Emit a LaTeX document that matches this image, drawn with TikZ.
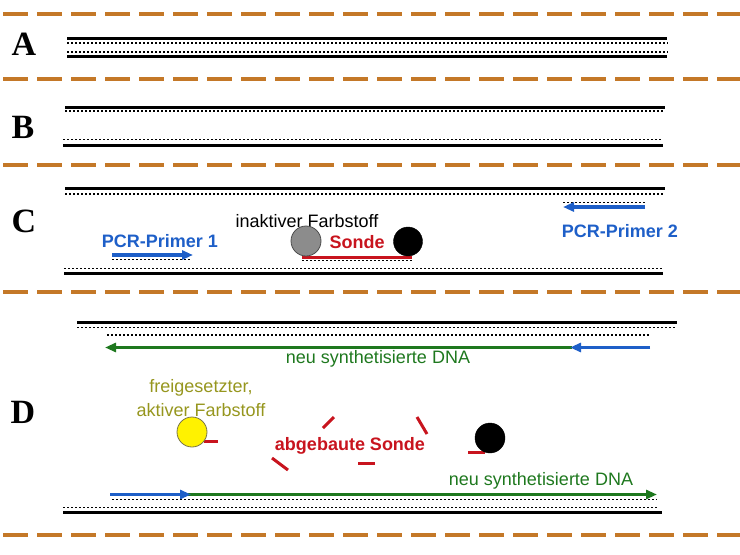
\documentclass[tikz,border=0pt]{standalone}
\usepackage{fontspec}
\setmainfont{Liberation Sans}
\newfontfamily\letterfont{Liberation Serif}
\usetikzlibrary{arrows.meta}
\definecolor{sepcol}{RGB}{196,120,40}
\definecolor{primercol}{RGB}{30,95,200}
\definecolor{probecol}{RGB}{200,20,30}
\definecolor{dnacol}{RGB}{30,120,30}
\definecolor{dyecol}{RGB}{150,150,30}
\tikzset{
  strand/.style={line width=3pt},
  comp/.style={line width=1.5pt, dash pattern=on 1.5pt off 2.5pt},
  letter/.style={anchor=base, font=\letterfont\fontsize{34}{38}\selectfont\bfseries},
  lbl/.style={anchor=base, inner sep=0pt, font=\fontsize{18}{24}\selectfont},
  arr/.style={line width=3.5pt, -{Triangle[length=11pt,width=9pt]}},
  frag/.style={probecol, line width=3pt}
}
\begin{document}
\begin{tikzpicture}[x=1pt,y=-1pt]
\useasboundingbox (0,0) rectangle (740,555);
% separators
\foreach \y in {14,79,165,292,535}{
	\draw[sepcol, line width=3.5pt, dash pattern=on 25pt off 9pt] (3,\y) -- (740,\y);
	}
\node[letter] (A) at (24,55) {A};
\node[letter] (B) at (23,138) {B};
\node[letter] (C) at (24,232) {C};
\node[letter] (D) at (23,423) {D};
% A
\draw[strand] (67,38.5) -- (667,38.5);
\draw[comp] (67,43) -- (668,43);
\draw[comp] (67,52) -- (668,52);
\draw[strand] (67,56) -- (667,56);
% B
\draw[strand] (65,107) -- (665,107);
\draw[comp] (65,111) -- (665,111);
\draw[comp] (63,139.5) -- (663,139.5);
\draw[strand] (63,145) -- (663,145);
% C
\draw[strand] (65,188.5) -- (665,188.5);
\draw[comp] (65,194) -- (665,194);
\draw[comp] (563,202.5) -- (645,202.5);
\draw[arr, primercol] (645,207) -- (563,207);
\node[lbl, primercol, font=\fontsize{18}{24}\selectfont\bfseries] (p2) at (620,237) {PCR-Primer 2};
\node[lbl] (dye) at (307,227) {inaktiver Farbstoff};
\node[lbl, probecol, font=\fontsize{18}{24}\selectfont\bfseries] (probe) at (357,248) {Sonde};
\node[lbl, primercol, font=\fontsize{18}{24}\selectfont\bfseries] (p1) at (160,247) {PCR-Primer 1};
\draw[arr, primercol] (112,255) -- (193,255);
\draw[comp] (112,259.5) -- (190,259.5);
\draw[frag] (302,257) -- (412,257);
\draw[comp] (302,260.5) -- (412,260.5);
\draw[fill=gray!90, draw=black!70, line width=0.8pt] (306,241) circle (15pt);
\draw[fill=black] (408,241.5) circle (14.5pt);
\draw[comp] (64,268.5) -- (663,268.5);
\draw[strand] (64,273) -- (663,273);
% D
\draw[strand] (77,322.5) -- (677,322.5);
\draw[comp] (77,327.5) -- (677,327.5);
\draw[comp] (107,335) -- (650,335);
\draw[arr, dnacol] (572,347.5) -- (105,347.5);
\draw[arr, primercol] (650,347.5) -- (570,347.5);
\node[lbl, dnacol] (dna1) at (378,363) {neu synthetisierte DNA};
\node[lbl, dyecol, align=center, anchor=south] (free) at (201,417) {freigesetzter,\\aktiver Farbstoff};
\draw[frag] (204,441) -- (218,441);
\draw[fill=yellow, draw=black!60!yellow, line width=0.8pt] (192,432) circle (15pt);
\node[lbl, probecol, font=\fontsize{18}{24}\selectfont\bfseries] (gone) at (350,450) {abgebaute Sonde};
\draw[frag] (323,428) -- (334,417);
\draw[frag] (272,458) -- (288,470);
\draw[frag] (358,463) -- (375,463);
\draw[frag] (417,417) -- (427,434);
\draw[frag] (468,452) -- (485,452);
\draw[fill=black] (490,438) circle (15pt);
\node[lbl, dnacol] (dna2) at (541,485) {neu synthetisierte DNA};
\draw[arr, dnacol] (188,494.5) -- (657,494.5);
\draw[arr, primercol] (110,494.5) -- (191,494.5);
\draw[comp] (112,499.5) -- (657,499.5);
\draw[comp] (63,507.5) -- (657,507.5);
\draw[strand] (63,512) -- (662,512);
\end{tikzpicture}
\end{document}
